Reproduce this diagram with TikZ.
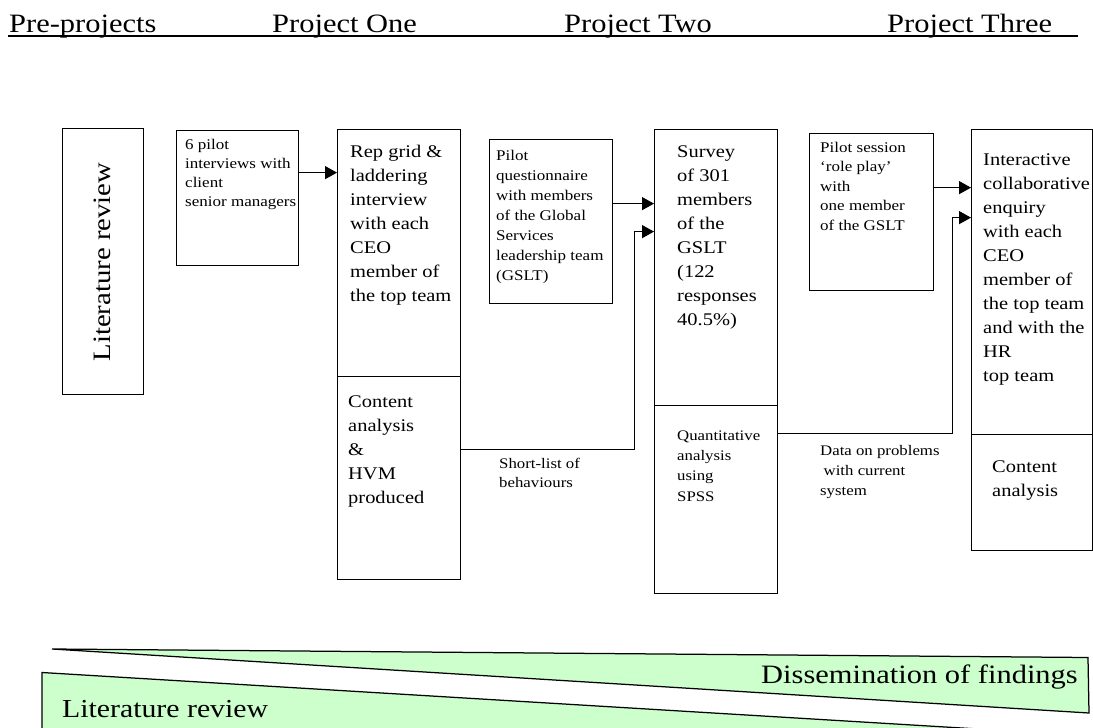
\documentclass[tikz,border=0pt]{standalone}
\usepackage{fontspec}
\setmainfont{Liberation Serif}[FakeStretch=1.15]
\usetikzlibrary{arrows.meta,calc}
\newcommand\mytop{\rule{0pt}{0.75em}}
\definecolor{litegreen}{RGB}{204,255,204}
\tikzset{
  box/.style={draw, line width=1.25pt, inner sep=0pt, anchor=north west},
  txt/.style={align=left, inner sep=0pt, anchor=north west},
  big/.style={txt, font=\fontsize{17.8}{24}\selectfont},
  arr/.style={line width=1.25pt, -{Triangle[length=12pt,width=13pt]}},
  band/.style={draw, line width=1.25pt, fill=litegreen},
  head/.style={inner sep=0pt, anchor=base west, font=\fontsize{26.5}{30}\selectfont},
}
\begin{document}
\begin{tikzpicture}[x=1pt,y=-1pt]
\useasboundingbox[fill=white] (0,0) rectangle (1093,728);

% header
\node[head] (h1) at (9,32) {Pre-projects};
\node[head] (h2) at (272,32) {Project One};
\node[head] (h3) at (564,32) {Project Two};
\node[head] (h4) at (887,32) {Project Three};
\draw[line width=1.25pt] (8,36) -- (1078,36);

% boxes
\node[box, minimum width=81pt,  minimum height=266pt] (lit)    at (62,128)  {};
\node[box, minimum width=122pt, minimum height=135pt] (pilot6) at (176,130) {};
\node[box, minimum width=123pt, minimum height=247pt] (repA)   at (337,129) {};
\node[box, minimum width=123pt, minimum height=203pt] (repB)   at (337,376) {};
\node[box, minimum width=123pt, minimum height=164pt] (pilotq) at (489,139) {};
\node[box, minimum width=123pt, minimum height=276pt] (survA)  at (654,129) {};
\node[box, minimum width=123pt, minimum height=188pt] (survB)  at (654,405) {};
\node[box, minimum width=124pt, minimum height=157pt] (pilots) at (809,133) {};
\node[box, minimum width=121pt, minimum height=305pt] (interA) at (971,129) {};
\node[box, minimum width=121pt, minimum height=116pt] (interB) at (971,434) {};

% texts
\node[inner sep=0pt, anchor=base, rotate=90, font=\fontsize{25}{30}\selectfont] (tlit) at (110,262) {Literature review};
\node[txt, font=\fontsize{14.8}{19}\selectfont] (tpilot6) at (185,137.9) {\mytop 6 pilot\\interviews with\\client\\senior managers};
\node[big] (trepA) at (350,143.7) {\mytop Rep grid \&\\laddering\\interview\\with each\\CEO\\member of\\the top team};
\node[big] (trepB) at (348,393.7) {\mytop Content\\analysis\\\&\\HVM\\produced};
\node[txt, font=\fontsize{14.8}{20}\selectfont] (tpilotq) at (496,148.9) {\mytop Pilot\\questionnaire\\with members\\of the Global\\Services\\leadership team\\(GSLT)};
\node[big] (tsurvA) at (677,143.7) {\mytop Survey\\of 301\\members\\of the\\GSLT\\(122\\responses\\40.5\%)};
\node[txt, font=\fontsize{14.6}{20.3}\selectfont] (tsurvB) at (677,429) {\mytop Quantitative\\analysis\\using\\SPSS};
\node[txt, font=\fontsize{14.8}{19.5}\selectfont] (tpilots) at (820,140.9) {\mytop Pilot session\\‘role play’\\with\\one member\\of the GSLT};
\node[big] (tinterA) at (983,151.7) {\mytop Interactive\\collaborative\\enquiry\\with each\\CEO\\member of\\the top team\\and with the\\HR\\top team};
\node[big] (tinterB) at (992,458.7) {\mytop Content\\analysis};
\node[txt, font=\fontsize{14.6}{19.5}\selectfont] (tshort) at (499,457) {\mytop Short-list of\\behaviours};
\node[txt, font=\fontsize{14.6}{20}\selectfont] (tdata) at (820,444) {\mytop Data on problems\\\hspace*{3.5pt}with current\\system};

% connectors
\draw[arr] ([yshift=25.5pt]pilot6.east) -- ([yshift=25.5pt]pilot6.east -| repA.west);
\draw[arr] ([yshift=18pt]pilotq.east) -- ([yshift=18pt]pilotq.east -| survA.west);
\draw[arr] ([yshift=28.5pt]repB.east) -- ++(173,0) |- ([yshift=36pt]survA.west);
\draw[arr] ([yshift=24.5pt]pilots.east) -- ([yshift=24.5pt]pilots.east -| interA.west);
\draw[arr] ([yshift=66pt]survB.east) -- ++(174,0) |- ([yshift=64.5pt]interA.west);

% bottom bands
\draw[band] (52,649) -- (1088,657.5) -- (1089,713) -- cycle;
\draw[band] (42,672.5) -- (1000,730.3) -- (1000,745) -- (42,745) -- cycle;
\node[inner sep=0pt, anchor=base east, font=\fontsize{26.5}{30}\selectfont] (tdiss) at (1078,683) {Dissemination of findings};
\node[inner sep=0pt, anchor=base west, font=\fontsize{25.9}{30}\selectfont] (tlitb) at (62,717.5) {Literature review};
\end{tikzpicture}
\end{document}
